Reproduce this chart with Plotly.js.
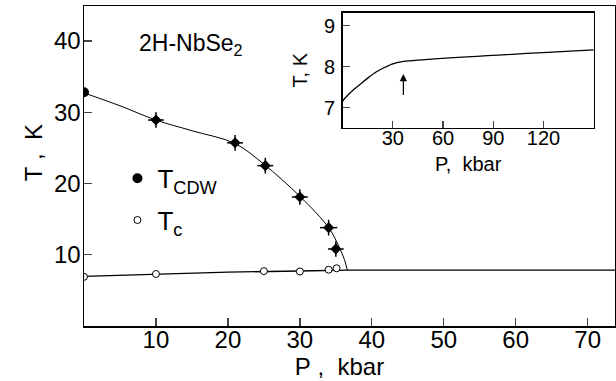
<!DOCTYPE html>
<html>
<head>
<meta charset="utf-8">
<script src="https://cdn.plot.ly/plotly-3.0.1.min.js"></script>
<style>html,body{margin:0;padding:0;background:#fff;}#plot{width:616px;height:381px;}</style>
</head>
<body>
<div id="plot"></div>
<script>
// Main panel: T_CDW data points (kbar, K)
const cdwP = [0, 10, 21, 25.2, 30, 34, 35];
const cdwT = [32.8, 28.9, 25.7, 22.5, 18.1, 13.8, 10.8];
const cdwErrP = [0, 1.1, 1.1, 1.1, 1.1, 1.2, 1.1];
const cdwErrT = [0, 1.1, 1.1, 1.1, 1.1, 1.1, 1.1];
// T_CDW guide curve
const cdwCurveP = [0, 5, 10, 15, 21, 25, 30, 34, 35.5, 36.2, 36.6];
const cdwCurveT = [32.7, 30.9, 28.9, 27.4, 25.6, 22.7, 18.2, 13.8, 11.0, 9.3, 7.85];
// Main panel: Tc data points
const tcP = [0, 10, 25, 30, 34, 35.1];
const tcT = [6.9, 7.3, 7.7, 7.65, 7.9, 8.1];
// Tc guide line
const tcLineP = [0, 10, 20, 30, 36.5, 74];
const tcLineT = [6.95, 7.3, 7.55, 7.72, 7.85, 7.85];
// Inset: Tc(P) curve
const insetP = [0, 3, 6, 10, 15, 20, 25, 30, 35, 150];
const insetT = [7.16, 7.30, 7.42, 7.55, 7.72, 7.87, 7.98, 8.07, 8.12, 8.41];
// Axis ticks
const mainXTicks = [10, 20, 30, 40, 50, 60, 70];
const mainYTicks = [10, 20, 30, 40];
const insetXTicks = [30, 60, 90, 120];
const insetYTicks = [7, 8, 9];
// Arrow in inset (kbar, K)
const arrowP = 36.3;
const arrowTip = 7.82;
const arrowTail = 7.27;

const FONT = 'Liberation Sans, Arial, Helvetica, sans-serif';

const traces = [
  {x: cdwCurveP, y: cdwCurveT, mode: 'lines', line: {color: '#000', width: 1, shape: 'spline'}, showlegend: false, hoverinfo: 'skip'},
  {x: tcLineP, y: tcLineT, mode: 'lines', line: {color: '#000', width: 1.3}, showlegend: false, hoverinfo: 'skip'},
  // ambient-pressure point (plain circle) carries the legend entry
  {x: cdwP.slice(0, 1), y: cdwT.slice(0, 1), mode: 'markers', name: 'T<sub>CDW</sub>', legendgroup: 'a',
   marker: {symbol: 'circle', size: 10, color: '#000'}},
  // high-pressure points with error bars
  {x: cdwP.slice(1), y: cdwT.slice(1), mode: 'markers', name: 'T<sub>CDW</sub>', legendgroup: 'a', showlegend: false,
   marker: {symbol: 'diamond', size: 8.5, color: '#000'},
   error_x: {type: 'data', array: cdwErrP.slice(1), visible: true, color: '#000', thickness: 1.5, width: 0},
   error_y: {type: 'data', array: cdwErrT.slice(1), visible: true, color: '#000', thickness: 1.5, width: 0}},
  {x: tcP, y: tcT, mode: 'markers', name: 'T<sub>c</sub>', legendgroup: 'b',
   marker: {symbol: 'circle', size: 7, color: '#fff', line: {color: '#000', width: 1}}},
  {x: insetP, y: insetT, xaxis: 'x2', yaxis: 'y2', mode: 'lines', line: {color: '#000', width: 1.3, shape: 'spline', smoothing: 0.8}, showlegend: false, hoverinfo: 'skip'}
];

const layout = {
  width: 616, height: 381,
  margin: {l: 84.3, r: 1.3, t: 6, b: 54.7},
  paper_bgcolor: '#fff', plot_bgcolor: '#fff',
  font: {family: FONT, color: '#000'},
  showlegend: true,
  legend: {x: 0.063, y: 0.535, xanchor: 'left', yanchor: 'top', bgcolor: 'rgba(0,0,0,0)',
           font: {size: 26, family: FONT}, tracegroupgap: 5, traceorder: 'grouped', itemwidth: 30},
  xaxis: {range: [0, 73.8], tickvals: mainXTicks, ticks: 'inside', ticklen: 8, tickwidth: 1.3,
          showline: true, linewidth: 1.5, linecolor: '#000', mirror: true, showgrid: false, zeroline: false,
          tickfont: {size: 24, family: FONT}, ticklabelstandoff: -8,
          title: {text: 'P&nbsp;,&nbsp;&nbsp;kbar&nbsp;&nbsp;&nbsp;', font: {size: 24, family: FONT}, standoff: 0}},
  yaxis: {range: [0, 44.9], tickvals: mainYTicks, ticks: 'inside', ticklen: 8, tickwidth: 1.3,
          showline: true, linewidth: 1.5, linecolor: '#000', mirror: true, showgrid: false, zeroline: false,
          tickfont: {size: 24, family: FONT}, ticklabelstandoff: -3,
          title: {text: '&nbsp;&nbsp;&nbsp;&nbsp;T&nbsp;,&nbsp;&nbsp;K', font: {size: 24, family: FONT}, standoff: 4}},
  xaxis2: {domain: [0.487, 0.960], anchor: 'y2', range: [0, 150], tickvals: insetXTicks, ticks: 'inside', ticklen: 7, tickwidth: 1.2,
           showline: true, linewidth: 1.5, linecolor: '#000', mirror: true, showgrid: false, zeroline: false,
           tickfont: {size: 20, family: FONT}, ticklabelstandoff: -8,
           title: {text: 'P,&nbsp;&nbsp;kbar', font: {size: 20, family: FONT}, standoff: 9}},
  yaxis2: {domain: [0.620, 0.979], anchor: 'x2', range: [6.51, 9.32], tickvals: insetYTicks, ticks: 'inside', ticklen: 7, tickwidth: 1.2,
           showline: true, linewidth: 1.5, linecolor: '#000', mirror: true, showgrid: false, zeroline: false,
           tickfont: {size: 20, family: FONT}, ticklabelstandoff: 2,
           title: {text: 'T, K', font: {size: 20, family: FONT}, standoff: 11}},
  annotations: [
    {text: '2H-NbSe<sub>2</sub>', xref: 'paper', yref: 'paper', x: 0.1, y: 0.88, xanchor: 'left', yanchor: 'middle',
     showarrow: false, font: {size: 23, family: FONT}},
    {text: '', xref: 'x2', yref: 'y2', axref: 'x2', ayref: 'y2', x: arrowP, y: arrowTip, ax: arrowP, ay: arrowTail,
     showarrow: true, arrowhead: 2, arrowsize: 1.2, arrowwidth: 1.2, arrowcolor: '#000'}
  ]
};

Plotly.newPlot('plot', traces, layout, {displayModeBar: false, staticPlot: true});
</script>
</body>
</html>
